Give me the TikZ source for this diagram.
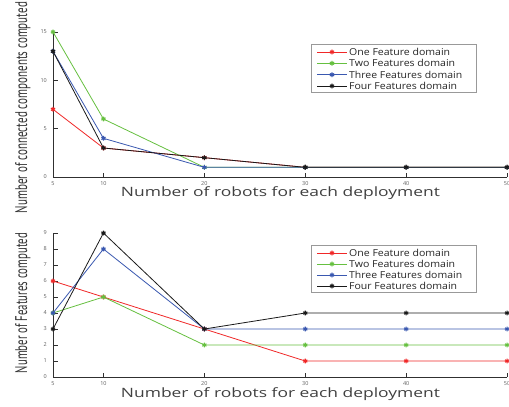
\documentclass[tikz,border=0pt]{standalone}
\usepackage{fontspec}
\setmainfont{Open Sans}
\newfontfamily\condfont{PT Sans}
\usetikzlibrary{plotmarks}
\definecolor{cR}{HTML}{F02828}
\definecolor{cG}{HTML}{66C040}
\definecolor{cB}{HTML}{3A58B0}
\definecolor{cK}{HTML}{1A1A1A}
\definecolor{axisgray}{HTML}{303030}
\definecolor{ticktext}{HTML}{606060}
\definecolor{labeltext}{HTML}{404040}
\tikzset{
 series/.style={line width=0.8bp, mark=asterisk, mark size=2.4bp, mark options={line width=1.1bp}},
 axisline/.style={draw=axisgray, line width=0.7bp},
 tickmark/.style={draw=axisgray, line width=0.6bp},
 yticklab/.style={font=\fontsize{5.5}{7}\selectfont, text=ticktext, inner sep=0pt, anchor=east, xshift=-6bp},
 xticklab/.style={font=\fontsize{5.5}{7}\selectfont, text=ticktext, inner sep=0pt, anchor=north, yshift=-4bp},
 xlab/.style={text=labeltext, inner sep=0pt, anchor=base},
 ylab/.style={text=black!80, inner sep=0pt, rotate=90, anchor=base, font=\condfont},
 legbox/.style={draw=gray!80, line width=0.7bp, fill=white},
 legtext/.style={font=\fontsize{9.6}{11}\selectfont, text=black!85, inner sep=0pt, anchor=base west},
 legline/.style={line width=0.8bp},
 legmark/.style={mark=asterisk, mark size=2.4bp, mark options={line width=1.1bp}},
}
\newcommand{\legentry}[4]{% color, x-y of line center, y, text
  \draw[#1, legline] (317,#2) -- (347,#2);
  \path[#1] plot[legmark] coordinates {(332,#2)};
  \node[legtext] at (349,#2-3.4) {\resizebox{#3bp}{\height}{#4}};
}
\begin{document}
\begin{tikzpicture}[x=1bp,y=1bp]
\useasboundingbox[fill=white] (0,0) rectangle (509,-406);

% ---------------- top plot ----------------
\begin{scope}[shift={(2.55bp,-177bp)}, x=10.09bp, y=9.67bp]
  \draw[axisline] (5,15) -- (5,0) -- (50,0);
  \foreach \v in {0,5,10,15} {
    \draw[tickmark] (5,\v) -- ++(5bp,0);
    \node[yticklab] at (5,\v) {\v};
  }
  \foreach \u in {10,20,30,40,50} \draw[tickmark] (\u,0) -- ++(0,4bp);
  \foreach \u in {5,10,20,30,40,50} \node[xticklab] at (\u,0) {\u};
  \draw[cR, series] plot coordinates {(5,7) (10,3) (20,2) (30,1) (40,1) (50,1)};
  \draw[cG, series] plot coordinates {(5,15) (10,6) (20,1) (30,1) (40,1) (50,1)};
  \draw[cB, series] plot coordinates {(5,13) (10,4) (20,1) (30,1) (40,1) (50,1)};
  \draw[cK, series] plot coordinates {(5,13) (10,3) (20,2) (30,1) (40,1) (50,1)};
\end{scope}
\node[xlab] (xl1) at (280.5,-196.5) {\resizebox{319bp}{\height}{\fontsize{12.9}{15}\selectfont Number of robots for each deployment}};
\node[ylab] (yl1) at (27,-107.5) {\resizebox{211bp}{\height}{\fontsize{17}{20}\selectfont Number of connected components computed}};

\node[legbox, minimum width=165bp, minimum height=48bp, anchor=north west] (lg1) at (311,-44) {};
\legentry{cR}{-52}{101}{One Feature domain}
\legentry{cG}{-63.3}{106}{Two Features domain}
\legentry{cB}{-74.7}{113}{Three Features domain}
\legentry{cK}{-86}{108}{Four Features domain}

% ---------------- bottom plot ----------------
\begin{scope}[shift={(2.55bp,-377bp)}, x=10.09bp, y=16bp]
  \draw[axisline] (5,9) -- (5,0) -- (50,0);
  \foreach \v in {0,...,9} {
    \draw[tickmark] (5,\v) -- ++(5bp,0);
    \node[yticklab] at (5,\v) {\v};
  }
  \foreach \u in {10,20,30,40,50} \draw[tickmark] (\u,0) -- ++(0,4bp);
  \foreach \u in {5,10,20,30,40,50} \node[xticklab] at (\u,0) {\u};
  \draw[cR, series] plot coordinates {(5,6) (10,5) (20,3) (30,1) (40,1) (50,1)};
  \draw[cG, series] plot coordinates {(5,4) (10,5) (20,2) (30,2) (40,2) (50,2)};
  \draw[cB, series] plot coordinates {(5,4) (10,8) (20,3) (30,3) (40,3) (50,3)};
  \draw[cK, series] plot coordinates {(5,3) (10,9) (20,3) (30,4) (40,4) (50,4)};
\end{scope}
\node[xlab] (xl2) at (280.5,-397) {\resizebox{319bp}{\height}{\fontsize{12.9}{15}\selectfont Number of robots for each deployment}};
\node[ylab] (yl2) at (27,-303) {\resizebox{140bp}{\height}{\fontsize{17}{20}\selectfont Number of Features computed}};

\node[legbox, minimum width=165bp, minimum height=47bp, anchor=north west] (lg2) at (311,-245) {};
\legentry{cR}{-253}{101}{One Feature domain}
\legentry{cG}{-264}{106}{Two Features domain}
\legentry{cB}{-275}{113}{Three Features domain}
\legentry{cK}{-286}{108}{Four Features domain}
\end{tikzpicture}
\end{document}
